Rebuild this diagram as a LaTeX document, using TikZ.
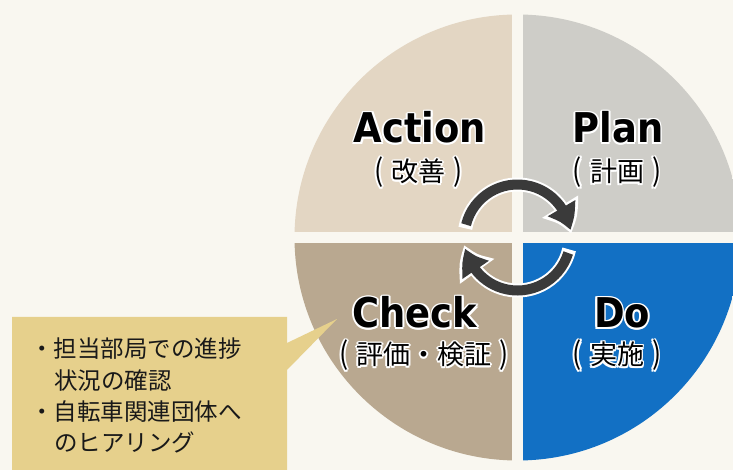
\documentclass[tikz,border=0pt]{standalone}
\usepackage{fontspec}
\setmainfont{DejaVu Sans}
\newfontfamily\labfont[FakeStretch=0.9]{DejaVu Sans}
\newfontfamily\jpfont{Noto Sans CJK JP}
\usetikzlibrary{arrows.meta,bending,calc}
\definecolor{bgc}{HTML}{F9F7F0}
\definecolor{qact}{HTML}{E3D6C3}
\definecolor{qplan}{HTML}{CECDC8}
\definecolor{qchk}{HTML}{B9A890}
\definecolor{qdo}{HTML}{1270C4}
\definecolor{callc}{HTML}{E6D08C}
\definecolor{arrc}{HTML}{3A3A3A}
\tikzset{
  big/.style={font=\labfont\bfseries\fontsize{41}{41}\selectfont, anchor=base, inner sep=0pt},
  sub/.style={font=\jpfont\fontsize{27}{27}\selectfont, anchor=base, inner sep=0pt},
  note/.style={font=\jpfont\fontsize{23.5}{23.5}\selectfont, anchor=base west, inner sep=0pt, text=black!90},
}
\newcommand\pl{\scalebox{1}[1.12]{(}\hspace{0.3em}}
\newcommand\pr{\hspace{0.3em}\scalebox{1}[1.12]{)}}
\newcommand\halonode[4]{%
  \foreach \hh in {0,45,...,315}{\node[#2,text=white] (#1-h\hh) at ($(#3)+(\hh:1.8pt)$) {#4};}
  \node[#2] (#1) at (#3) {#4};}
\begin{document}
\begin{tikzpicture}[x=1pt,y=1pt]
\fill[bgc] (0,0) rectangle (733,470);
\useasboundingbox (0,0) rectangle (733,470);
\coordinate (C) at (517.5,232.5);
\begin{scope}
  \clip (C) circle (223pt);
  \fill[qact] (0,238.25) rectangle (511.75,470);
  \fill[qplan] (523.25,238.25) rectangle (760,470);
  \fill[qchk] (0,-10) rectangle (511.75,226.75);
  \fill[qdo] (523.25,-10) rectangle (760,226.75);
\end{scope}
% cycle arrows
\draw[white, line width=14pt, -{Triangle[length=30pt,width=40pt,bend]}] ($(C)+(170:53pt)$) arc (170:4:53pt);
\draw[arrc, line width=10pt, -{Triangle[length=24pt,width=30pt,bend]}] ($(C)+(166:53pt)$) arc (166:8:53pt);
\draw[white, line width=14pt, -{Triangle[length=30pt,width=40pt,bend]}] ($(C)+(-13:53pt)$) arc (-13:-172:53pt);
\draw[arrc, line width=10pt, -{Triangle[length=24pt,width=30pt,bend]}] ($(C)+(-17:53pt)$) arc (-17:-168:53pt);
% labels
\halonode{action}{big}{420,327}{Action}
\halonode{actionj}{sub}{418.5,288}{\pl 改善\pr}
\halonode{plan}{big}{618,327}{Plan}
\halonode{planj}{sub}{617,288}{\pl 計画\pr}
\halonode{check}{big}{415,142}{Check}
\halonode{checkj}{sub}{424,105}{\pl 評価・検証\pr}
\halonode{do}{big}{622,142}{Do}
\halonode{doj}{sub}{617,105}{\pl 実施\pr}
% callout
\fill[callc] (12,-5) -- (12,153) -- (287,153) -- (287,127) -- (337,151) -- (287,100) -- (287,-5) -- cycle;
\node[note] (n1) at (30,112) {・担当部局での進捗};
\node[note] (n2) at (54,80.5) {状況の確認};
\node[note] (n3) at (30,49) {・自転車関連団体へ};
\node[note] (n4) at (54,18) {のヒアリング};
\end{tikzpicture}
\end{document}
